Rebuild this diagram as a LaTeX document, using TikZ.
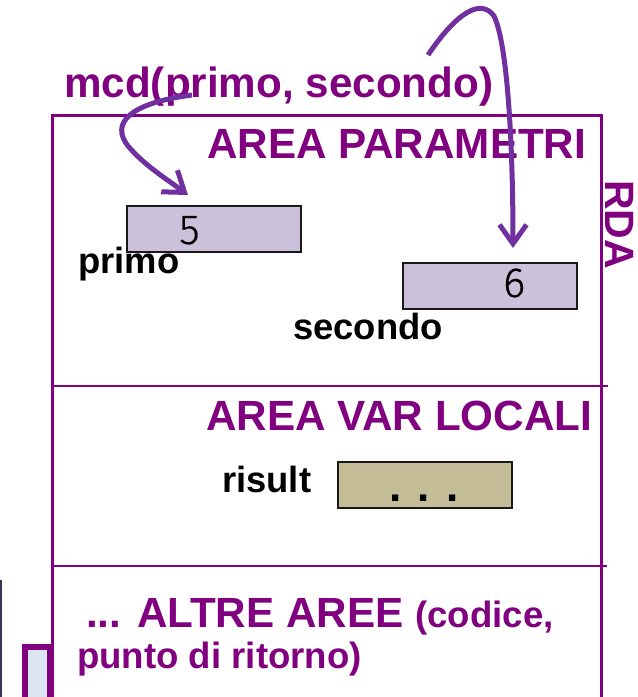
\documentclass[tikz,border=0pt]{standalone}
\usepackage{fontspec}
\setmainfont{Liberation Sans}
\newfontfamily\digitfont[FakeBold=0.6]{Fira Sans Light}
\usetikzlibrary{arrows.meta}
\definecolor{rdapurple}{HTML}{800080}
\definecolor{arrowviolet}{HTML}{7030A0}
\definecolor{cellfill}{HTML}{CCC1DA}
\definecolor{tanfill}{HTML}{C4BD97}
\definecolor{bluefill}{HTML}{DCE6F2}
\definecolor{thinline}{HTML}{3F2F55}
\begin{document}
\begin{tikzpicture}[x=1pt,y=-1pt,
  heading/.style={text=rdapurple,font=\bfseries\fontsize{42.2}{48}\selectfont,anchor=base west,inner sep=0pt},
  smallhead/.style={text=rdapurple,font=\bfseries\fontsize{36.6}{42}\selectfont,anchor=base west,inner sep=0pt},
  varname/.style={text=black,font=\bfseries\fontsize{36.4}{42}\selectfont,anchor=base west,inner sep=0pt},
  cellbox/.style={draw=black!90,line width=2pt,minimum width=174pt,minimum height=46pt,inner sep=0pt},
  digit/.style={font=\digitfont\fontsize{42}{48}\selectfont,anchor=base west,inner sep=0pt},
  framestroke/.style={draw=rdapurple,line width=3pt},
  divider/.style={draw=rdapurple,line width=2.5pt},
  callarrow/.style={draw=arrowviolet,line width=5pt,-{Straight Barb[length=19pt,width=27pt]}}
]
\useasboundingbox (0,0) rectangle (638,697);
\clip (0,0) rectangle (638,697);
% frame
\draw[framestroke] (52,760) -- (52,115) -- (601,115) -- (601,760);
\coordinate (d1l) at (52,386); \coordinate (d1r) at (608,386);
\coordinate (d2l) at (52,566); \coordinate (d2r) at (607,566);
\draw[divider] (d1l) -- (d1r);
\draw[divider] (d2l) -- (d2r);
% left fragments
\draw[thinline,line width=2pt] (1,580) -- (1,720);
\draw[draw=rdapurple,fill=bluefill,line width=6pt] (25,647) rectangle (50,740);
% headings
\node[heading] (mcd) at (64,97) {mcd(primo, secondo)};
\node[heading] (hpar) at (207,158) {AREA PARAMETRI};
\node[heading] (hloc) at (206,430) {AREA VAR LOCALI};
\node[heading] (haltre) at (86,627) {... ALTRE AREE {\fontsize{36.6}{42}\selectfont(codice,}};
\node[smallhead] (hpunto) at (77,668) {punto di ritorno)};
\node[heading,rotate=-90,font=\bfseries\fontsize{41}{48}\selectfont] (rda) at (605,180) {RDA};
% cells
\node[cellbox,fill=cellfill] (primo) at (214,229) {};
\node[digit] (v5) at (179,244) {5};
\node[varname] (lprimo) at (78,273) {primo};
\node[cellbox,fill=cellfill] (secondo) at (490,286) {};
\node[digit] (v6) at (503,297) {6};
\node[varname] (lsecondo) at (293,339) {secondo};
\node[varname] (lrisult) at (222,492) {risult};
\node[cellbox,fill=tanfill] (risult) at (425,485) {};
\node[font=\bfseries\fontsize{44}{48}\selectfont,inner sep=0pt,anchor=base] (dots) at (424,501) {.\kern16.5pt.\kern16.5pt.};
% arrows
\coordinate (a1s) at (192,95);
\coordinate (a1e) at (188,195);
\draw[callarrow] (a1s) .. controls (130,103) and (110,123) .. (128,146) .. controls (145,166) and (168,180) .. (a1e);
\coordinate (a2s) at (428,55);
\coordinate (a2e) at (513,248);
\draw[callarrow] (a2s) .. controls (457,12) and (481,-2) .. (494,16) .. controls (508,45) and (513,150) .. (a2e);
\end{tikzpicture}
\end{document}
